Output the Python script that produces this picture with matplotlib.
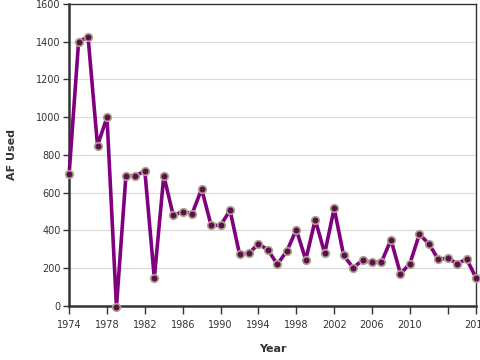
import matplotlib
matplotlib.use("Agg")
import matplotlib.pyplot as plt

# ------------------------------
# Data
# ------------------------------
years = list(range(1974, 2018))
af_used = [
    700, 1400, 1425, 850, 1000, -5, 690, 690, 715, 148,
    690, 480, 500, 490, 620, 427, 427, 507, 275, 279,
    330, 297, 221, 291, 404, 245, 457, 279, 517, 268,
    203, 242, 231, 233, 351, 171, 224, 380, 330, 247,
    254, 224, 249, 147,
]
x_ticks = [1974, 1978, 1982, 1986, 1990, 1994, 1998, 2002, 2006, 2010, 2014, 2017]
x_tick_labels = ["1974", "1978", "1982", "1986", "1990", "1994", "1998",
                 "2002", "2006", "2010", "", "2017"]
y_ticks = list(range(0, 1601, 200))

# ------------------------------
# Plot
# ------------------------------
fig = plt.figure(figsize=(4.8, 3.6), dpi=100)
ax = fig.add_axes([0.144, 0.15, 0.848, 0.839])

ax.grid(axis="y", color="#d9d9d9", linewidth=0.8)
ax.set_axisbelow(True)

ax.plot(years, af_used, color="#800080", linewidth=2.6, clip_on=False, zorder=3)
ax.plot(years, af_used, linestyle="none", marker="o", markersize=5.5,
        markerfacecolor="#5a1050", markeredgecolor="#b0a488",
        markeredgewidth=1.2, clip_on=False, zorder=4)

ax.set_xlim(1974, 2017)
ax.set_ylim(0, 1600)
ax.set_xticks(x_ticks)
ax.set_xticklabels(x_tick_labels)
ax.set_yticks(y_ticks)

for side in ["left", "bottom"]:
    ax.spines[side].set_linewidth(1.8)
    ax.spines[side].set_color("#333333")
for side in ["top", "right"]:
    ax.spines[side].set_linewidth(1.0)
    ax.spines[side].set_color("#333333")

ax.tick_params(axis="x", length=6, width=1, colors="#333333", labelsize=7, pad=4)
ax.tick_params(axis="y", length=4, width=1, colors="#333333", labelsize=7, pad=2)

ax.set_xlabel("Year", fontsize=8, fontweight="bold", color="#333333", labelpad=10)
ax.set_ylabel("AF Used", fontsize=8, fontweight="bold", color="#333333", labelpad=14)

fig.savefig("out.png", dpi=100)
